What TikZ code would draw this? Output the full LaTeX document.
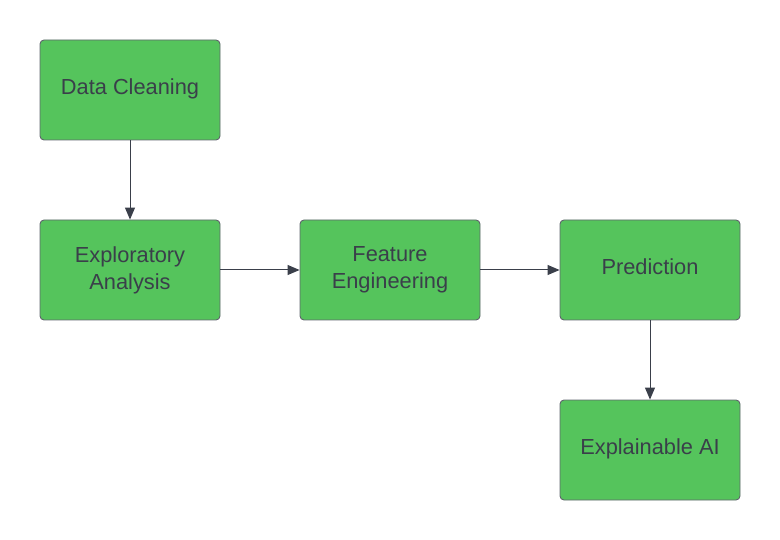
\documentclass[tikz,border=0pt]{standalone}
\usepackage{fontspec}
\setmainfont{Liberation Sans}
\usetikzlibrary{arrows.meta}

\definecolor{boxgreen}{HTML}{55C45C}
\definecolor{inkgray}{HTML}{3A3F4A}

\tikzset{
 stagebox/.style={draw=inkgray!80, line width=0.9pt, fill=boxgreen, rounded corners=4pt,
   minimum width=180pt, minimum height=100pt, align=center, text=inkgray,
   font=\fontsize{21.8}{27}\selectfont, inner sep=0pt},
 oneline/.style={text height=15.6pt, text depth=7pt},
 flow/.style={draw=inkgray, line width=1pt, -{Triangle[length=12pt,width=10pt]}}
}

\begin{document}
\begin{tikzpicture}[x=1pt,y=-1pt]
\useasboundingbox (0,0) rectangle (780,540);
\node[stagebox,oneline] (clean) at (130,90) {Data Cleaning};
\node[stagebox] (explore) at (130,270) {Exploratory\\Analysis};
\node[stagebox] (feature) at (390,270) {Feature\\Engineering};
\node[stagebox,oneline] (predict) at (650,270) {Prediction};
\node[stagebox,oneline] (xai) at (650,450) {Explainable AI};

\draw[flow] (clean) -- (explore);
\draw[flow] (explore) -- (feature);
\draw[flow] (feature) -- (predict);
\draw[flow] (predict) -- (xai);
\end{tikzpicture}
\end{document}
